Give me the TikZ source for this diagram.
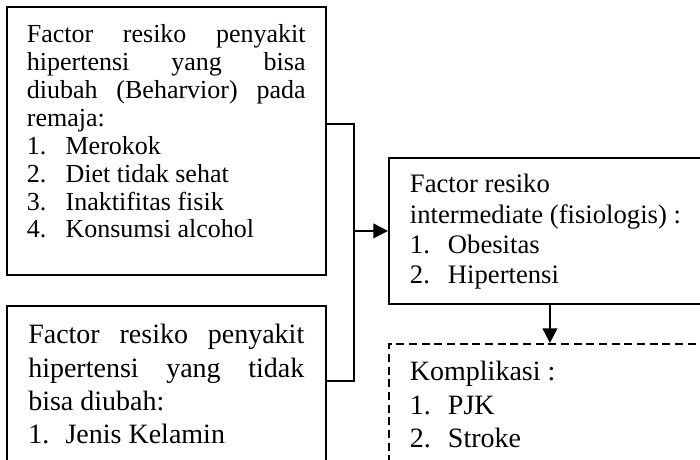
\documentclass[tikz,border=0pt]{standalone}
\usepackage{fontspec}
\setmainfont{Liberation Serif}
\usetikzlibrary{arrows.meta}

\newcommand{\boxlines}[4]{\parbox[t]{#1}{\fontsize{#2}{#3}\selectfont #4\par}}
\newcommand{\spread}[2]{{\spaceskip=0pt\xspaceskip=0pt\makebox[#1][s]{#2}}}
\newcommand{\uprule}[1]{\rule{0pt}{#1}}
\newcommand{\downrule}[1]{\rule[-#1]{0pt}{#1}}

\begin{document}
\begin{tikzpicture}[x=0.75pt,y=-0.75pt,
    box/.style={draw,line width=1.4pt,anchor=north west,inner ysep=0pt},
    link/.style={line width=1.4pt},
    arr/.style={line width=1.4pt,-{Triangle[length=11pt,width=11pt]}}]
  \useasboundingbox (0,0) rectangle (700,460);
  \clip (0,0) rectangle (700,460);
  \node[box,inner xsep=15pt] (bisa) at (6,6)
    {\boxlines{209pt}{19.5}{20.9}{\uprule{27pt}\spread{209pt}{Factor resiko penyakit}\\
     \spread{209pt}{hipertensi yang bisa}\\
     \spread{209pt}{diubah (Beharvior) pada}\\
     remaja:\\
     \makebox[29pt][l]{1.}Merokok\\
     \makebox[29pt][l]{2.}Diet tidak sehat\\
     \makebox[29pt][l]{3.}Inaktifitas fisik\\
     \makebox[29pt][l]{4.}Konsumsi alcohol\downrule{28pt}}};
  \node[box,inner xsep=16pt] (tidak) at (6,305)
    {\boxlines{207pt}{21}{25}{\uprule{28.5pt}\spread{207pt}{Factor resiko penyakit}\\
     \spread{207pt}{hipertensi yang tidak}\\
     bisa diubah:\\
     \makebox[28pt][l]{1.}Jenis Kelamin\downrule{30pt}}};
  \node[box,inner xsep=15.75pt] (inter) at (388,157)
    {\boxlines{210pt}{20}{22.75}{\uprule{26.25pt}Factor resiko\\
     intermediate (fisiologis) :\\
     \makebox[28.5pt][l]{1.}Obesitas\\
     \makebox[28.5pt][l]{2.}Hipertensi\downrule{15pt}}};
  \node[box,dash pattern=on 6pt off 3.5pt,inner xsep=15.75pt] (komp) at (388,343)
    {\boxlines{210pt}{21}{25.1}{\uprule{27.75pt}Komplikasi :\\
     \makebox[28.5pt][l]{1.}PJK\\
     \makebox[28.5pt][l]{2.}Stroke\downrule{30pt}}};
  \coordinate (j) at ([xshift=-25.5pt]inter.west);
  \draw[link] ([yshift=13.1pt]bisa.east) -| (j) |- ([yshift=10.5pt]tidak.east);
  \draw[arr] (j) -- (inter.west);
  \draw[arr] (inter.south) -- (komp.north);
\end{tikzpicture}
\end{document}
